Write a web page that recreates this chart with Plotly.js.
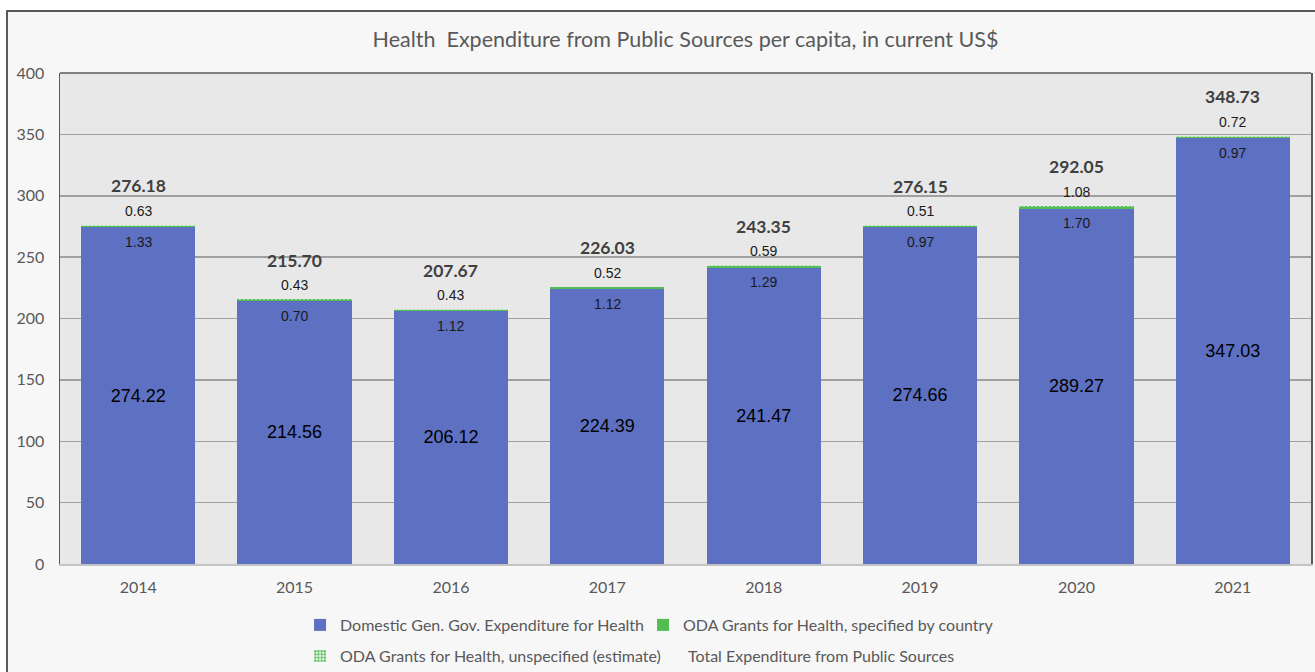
<!DOCTYPE html>
<html>
<head>
<meta charset="utf-8">
<script src="https://cdn.plot.ly/plotly-3.0.1.min.js"></script>
<style>
  html, body { margin: 0; padding: 0; background: #ffffff; overflow: hidden; }
  #chart {
    position: absolute; left: 6px; top: 10px;
    width: 1309px; height: 660px;
    border-left: 2px solid #5a5a5a; border-top: 2px solid #5a5a5a;
    background: #f7f7f7;
  }
</style>
</head>
<body>
<div id="chart"></div>
<script>
// ---- data ----
const years = ['2014', '2015', '2016', '2017', '2018', '2019', '2020', '2021'];
const domestic = [274.22, 214.56, 206.12, 224.39, 241.47, 274.66, 289.27, 347.03];
const odaSpecified = [1.33, 0.70, 1.12, 1.12, 1.29, 0.97, 1.70, 0.97];
const odaUnspecified = [0.63, 0.43, 0.43, 0.52, 0.59, 0.51, 1.08, 0.72];
const totals = [276.18, 215.70, 207.67, 226.03, 243.35, 276.15, 292.05, 348.73];
const yTicks = [0, 50, 100, 150, 200, 250, 300, 350, 400];

const seriesNames = [
  'Domestic Gen. Gov. Expenditure for Health',
  'ODA Grants for Health, specified by country',
  'ODA Grants for Health, unspecified (estimate)',
  'Total Expenditure from Public Sources'
];

const BLUE = '#5d70c2';
const GREEN = '#52bd52';
const LABEL_FONT = 'Lato, "Open Sans", sans-serif';

const traces = [
  {
    type: 'bar', x: years, y: domestic, name: seriesNames[0],
    marker: { color: BLUE, line: { width: 0 } },
    width: 0.73,
    text: domestic.map(v => v.toFixed(2)),
    textposition: 'inside', insidetextanchor: 'middle', textangle: 0,
    textfont: { family: '"Liberation Sans", Arial, sans-serif', size: 18, color: '#000000' },
    constraintext: 'none',
    legend: 'legend', hoverinfo: 'skip'
  },
  {
    type: 'bar', x: years, y: odaSpecified, name: seriesNames[1],
    marker: { color: GREEN, line: { width: 0 } },
    width: 0.73, textposition: 'none',
    legend: 'legend2', hoverinfo: 'skip'
  },
  {
    type: 'bar', x: years, y: odaUnspecified, name: seriesNames[2],
    marker: { color: '#cdeccd', line: { width: 0 },
              pattern: { shape: '.', fgcolor: GREEN, bgcolor: '#d8f0d8', size: 4, solidity: 0.45 } },
    width: 0.73, textposition: 'none',
    legend: 'legend3', hoverinfo: 'skip'
  },
  {
    type: 'scatter', mode: 'markers', x: years, y: totals, name: seriesNames[3],
    marker: { color: 'rgba(0,0,0,0)', size: 1 },
    legend: 'legend4', hoverinfo: 'skip'
  }
];

// labels placed relative to the top of each stack (x given as category index)
const annotations = [];
years.forEach((yr, i) => {
  const top = domestic[i] + odaSpecified[i] + odaUnspecified[i];
  annotations.push({
    x: i, y: top, xref: 'x', yref: 'y', showarrow: false,
    text: odaSpecified[i].toFixed(2), yshift: -17,
    font: { family: '"Liberation Sans", Arial, sans-serif', size: 14, color: '#1a1a1a' }
  });
  annotations.push({
    x: i, y: top, xref: 'x', yref: 'y', showarrow: false,
    text: odaUnspecified[i].toFixed(2), yshift: 14,
    font: { family: '"Liberation Sans", Arial, sans-serif', size: 14, color: '#1a1a1a' }
  });
  annotations.push({
    x: i, y: top, xref: 'x', yref: 'y', showarrow: false,
    text: '<b>' + totals[i].toFixed(2) + '</b>', yshift: 39,
    font: { family: LABEL_FONT, size: 17.5, color: '#404040' }
  });
});

const legendFont = { family: LABEL_FONT, size: 16, color: '#595959' };
function legendAt(x, y) {
  return {
    orientation: 'h', xref: 'container', yref: 'container',
    x: x, xanchor: 'left', y: y, yanchor: 'middle',
    font: legendFont, bgcolor: 'rgba(0,0,0,0)', itemwidth: 30
  };
}

const layout = {
  width: 1309, height: 660,
  margin: { l: 52, r: 6, t: 61, b: 108 },
  paper_bgcolor: '#f7f7f7',
  plot_bgcolor: '#e8e8e8',
  barmode: 'stack',
  hovermode: false,
  title: {
    text: 'Health  Expenditure from Public Sources per capita, in current US$',
    font: { family: LABEL_FONT, size: 21.5, color: '#595959' },
    x: 0.5, xanchor: 'center', xref: 'paper',
    y: 1, yref: 'container', yanchor: 'top', pad: { t: 20 }
  },
  xaxis: {
    type: 'category', categoryorder: 'array', categoryarray: years,
    range: [-0.5, years.length - 0.5], autorange: false,
    showgrid: false, zeroline: false,
    showline: true, linecolor: '#c4c4c4', linewidth: 2,
    ticks: '', ticklabelstandoff: 8,
    tickfont: { family: LABEL_FONT, size: 16, color: '#595959' }
  },
  yaxis: {
    range: [0, 400], autorange: false, tickvals: yTicks, ticktext: yTicks.map(String),
    showgrid: true, gridcolor: '#a0a0a0', gridwidth: 1.5,
    zeroline: false,
    showline: true, linecolor: '#5a5a5a', linewidth: 1.5, mirror: true,
    ticks: '', ticklabelstandoff: 11,
    tickfont: { family: LABEL_FONT, size: 16, color: '#595959' }
  },
  shapes: [
    { type: 'line', xref: 'paper', yref: 'paper', x0: 0, x1: 1, y0: 1, y1: 1,
      line: { color: '#5a5a5a', width: 1.5 } }
  ],
  annotations: annotations,
  legend: legendAt(0.2231, 0.0712),
  legend2: legendAt(0.4851, 0.0712),
  legend3: legendAt(0.2231, 0.0242),
  legend4: legendAt(0.4889, 0.0242),
  showlegend: true
};

Plotly.newPlot('chart', traces, layout, { displayModeBar: false, staticPlot: true });
</script>
</body>
</html>
